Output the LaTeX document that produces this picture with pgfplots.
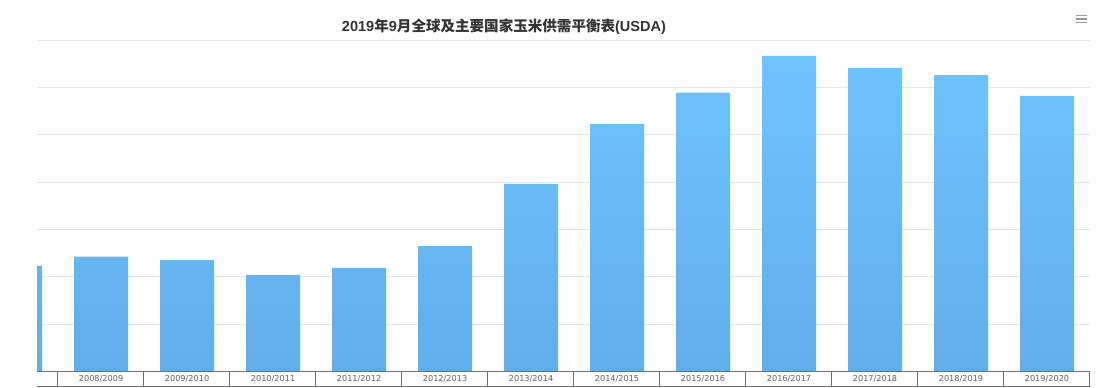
\documentclass[border=0pt]{standalone}
\usepackage{fontspec}
\setmainfont{Liberation Sans}
\newfontfamily\cjk{Noto Sans CJK SC}
\newfontfamily\labelfont{DejaVu Sans}
\usepackage{pgfplots}
\pgfplotsset{compat=1.18}
\definecolor{gridgray}{HTML}{E6E6E6}
\definecolor{boxgray}{HTML}{707070}
\definecolor{labgray}{HTML}{606060}
\definecolor{bartop}{RGB}{110,196,255}
\definecolor{barbot}{RGB}{98,174,234}
\definecolor{titlegray}{HTML}{333333}
\definecolor{menugray}{HTML}{9A9A9A}
\begin{document}
\begin{tikzpicture}[x=1bp,y=1bp]
\useasboundingbox (0,0) rectangle (1099,387);
\begin{axis}[at={(37bp,15.5bp)}, anchor=south west, scale only axis,
  width=1053bp, height=331.5bp,
  xmin=-0.745, xmax=11.50, ymin=0, ymax=350,
  axis line style={draw=none},
  ytick={0,50,...,350}, yticklabels={}, ymajorgrids,
  grid style={gridgray, line width=0.75bp},
  major tick length=0pt, tick style={draw=none},
  xtick={0,...,11},
  xticklabels={2008/2009,2009/2010,2010/2011,2011/2012,2012/2013,2013/2014,2014/2015,2015/2016,2016/2017,2017/2018,2018/2019,2019/2020},
  xticklabel style={font=\labelfont\fontsize{8.2}{9}\selectfont, text=labgray, anchor=center, yshift=-7bp},
  ybar, bar width=0.628,
]
\addplot[draw=none, top color=bartop, bottom color=barbot, bar shift=0pt] coordinates {
(-1,111.4) (0,121.2) (1,117.7) (2,101.9) (3,109.3) (4,132.5) (5,198.0)
(6,261.4) (7,294.4) (8,333.2) (9,320.5) (10,312.8) (11,290.9)};
\end{axis}
\draw[boxgray, line width=0.75] (37,15.5) -- (1090,15.5);
\draw[boxgray, line width=0.75] (37,1) -- (1090,1);
\foreach \k in {0,...,12} \draw[boxgray, line width=0.75] ({57+86*\k},15.5) -- ({57+86*\k},1);
\node[anchor=base, text=titlegray, inner sep=0pt] at (504,356) {\bfseries\fontsize{14.6}{16}\selectfont 2019{\cjk 年}9{\cjk 月全球及主要国家玉米供需平衡表}(USDA)};
\foreach \yy in {371.3,368,364.7} \draw[menugray, line width=1.2] (1076,\yy) -- (1087,\yy);
\end{tikzpicture}
\end{document}
